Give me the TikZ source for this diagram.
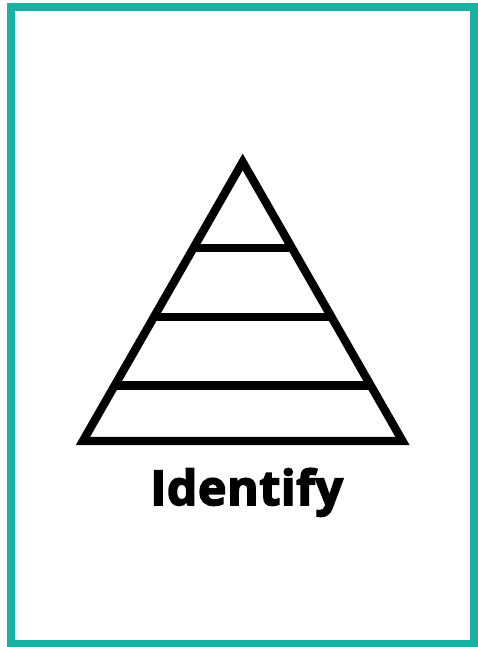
\documentclass[tikz,border=0pt]{standalone}
\usepackage{fontspec}
\setmainfont{Open Sans}
\newfontfamily\xbold{Open Sans}[BoldFeatures={FakeBold=3.5,LetterSpace=1.5}]
\definecolor{frameteal}{RGB}{23,178,163}
\begin{document}
\begin{tikzpicture}[x=1pt,y=-1pt,
  frame/.style={draw=frameteal,line width=8pt},
  pyr/.style={draw=black,line width=8.3pt,line join=miter},
  tier/.style={draw=black,line width=8.6pt},
  lbl/.style={font=\xbold\bfseries\fontsize{48}{58}\selectfont,inner sep=0pt,anchor=base}]
\useasboundingbox (0,0) rectangle (477,647);
\fill[white] (0,0) rectangle (477,647);
\draw[frame] (11,7) rectangle (474,644);
\coordinate (apex) at (242.7,162);
\coordinate (bl) at (82.9,441);
\coordinate (br) at (402.5,441);
\draw[pyr] (apex) -- (br) -- (bl) -- cycle;
\foreach \yy in {248,317,385.3}{
  \pgfmathsetmacro{\hw}{0.57276*(\yy-162)}
  \draw[tier] (242.7-\hw,\yy) -- (242.7+\hw,\yy);
}
\node[lbl] (title) at (246.7,505) {Identify};
\end{tikzpicture}
\end{document}
